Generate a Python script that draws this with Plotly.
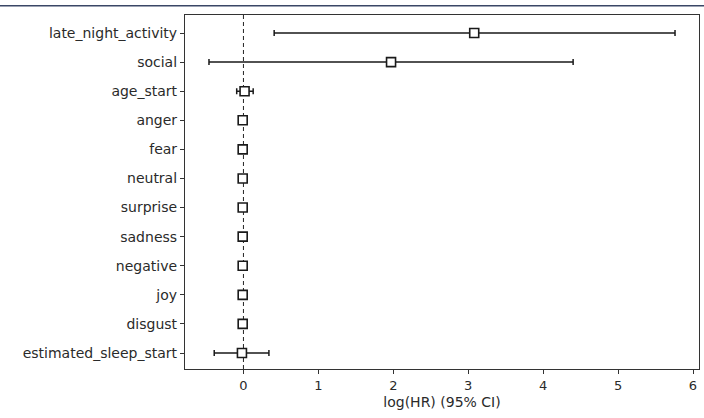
import plotly.graph_objects as go

variables = ["late_night_activity", "social", "age_start", "anger", "fear", "neutral",
             "surprise", "sadness", "negative", "joy", "disgust", "estimated_sleep_start"]
coef = [3.08, 1.97, 0.015, -0.01, -0.01, -0.01, -0.01, -0.01, -0.01, -0.01, -0.01, -0.02]
lower = [0.41, -0.46, -0.09, -0.02, -0.02, -0.02, -0.02, -0.02, -0.02, -0.02, -0.02, -0.39]
upper = [5.76, 4.40, 0.13, 0.00, 0.00, 0.00, 0.00, 0.00, 0.00, 0.00, 0.00, 0.34]
x_ticks = [0, 1, 2, 3, 4, 5, 6]

# plot from bottom to top
vars_r = variables[::-1]
coef_r = coef[::-1]
lo_r = lower[::-1]
up_r = upper[::-1]
ypos = list(range(len(vars_r)))

fig = go.Figure()
fig.add_trace(go.Scatter(
    x=coef_r, y=ypos, mode="markers",
    marker=dict(symbol="square", size=9, color="white",
                line=dict(color="#1a1a1a", width=1.6)),
    error_x=dict(type="data", symmetric=False,
                 array=[u - c for u, c in zip(up_r, coef_r)],
                 arrayminus=[c - l for c, l in zip(coef_r, lo_r)],
                 color="#1a1a1a", thickness=1.5, width=3),
    showlegend=False,
))

fig.add_vline(x=0, line=dict(color="#222", width=1, dash="4px,3px"), layer="below")

# top decorative line
fig.add_shape(type="line", xref="paper", yref="paper",
              x0=-0.37, x1=1.02, y0=1.026, y1=1.026,
              line=dict(color="#3a4766", width=1.5))

fig.update_layout(
    width=704, height=418,
    margin=dict(l=185, r=5, t=15, b=49),
    plot_bgcolor="white", paper_bgcolor="white",
    font=dict(family="DejaVu Sans", size=13, color="#2a2a2a"),
    xaxis=dict(range=[-0.78, 6.08], tickvals=x_ticks, ticks="outside", ticklen=4,
               tickcolor="#333", showgrid=False, zeroline=False,
               tickfont=dict(size=13),
               showline=True, linecolor="#333", linewidth=1.2, mirror=True,
               title=dict(text="log(HR) (95% CI)", standoff=5,
                          font=dict(family="DejaVu Sans", size=14, color="#2a2a2a"))),
    yaxis=dict(range=[-0.55, 11.62], tickvals=ypos, ticktext=vars_r,
               tickfont=dict(size=14),
               ticks="outside", ticklen=4, tickcolor="#333", showgrid=False,
               zeroline=False, showline=True, linecolor="#333", linewidth=1.2, mirror=True),
)

fig.write_html("out.html")
